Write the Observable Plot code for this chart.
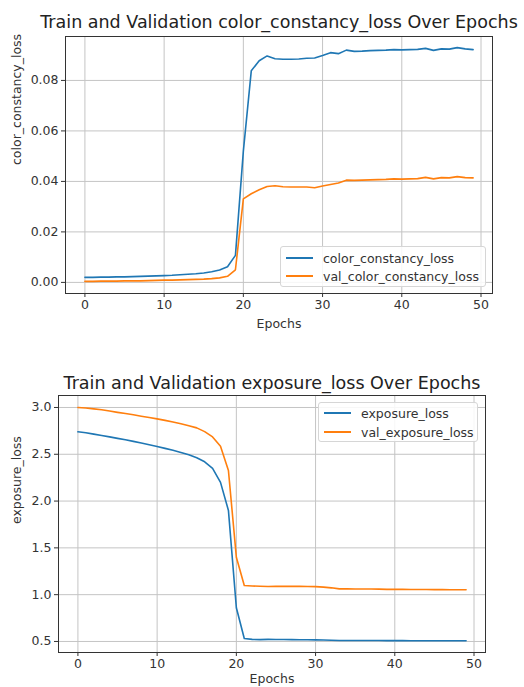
<!DOCTYPE html>
<html><head><meta charset="utf-8">
<script src="https://cdn.jsdelivr.net/npm/d3@7"></script>
<script src="https://cdn.jsdelivr.net/npm/@observablehq/plot@0.6"></script>
<style>
body{margin:0;background:#fff;font-family:"DejaVu Sans",sans-serif;}
#wrap{position:relative;width:524px;height:687px;overflow:hidden;background:#fff}
.chart{position:absolute;left:0}
.legend{position:absolute;border:1px solid #d6d6d6;border-radius:3px;background:rgba(255,255,255,0.85);font-size:12.5px;color:#333;box-sizing:border-box}
.row{position:absolute;left:0;height:18px;display:flex;align-items:center;white-space:nowrap}
.sw{display:inline-block;width:27px;height:0;border-top:2px solid;margin-left:5px;margin-right:10px}
</style>
</head><body>
<div id="wrap"></div>
<script>
const epochs = d3.range(50);

const colorConstancyLoss = [0.0020,0.0020,0.0021,0.0021,0.0022,0.0022,0.0023,0.0024,0.0025,0.0026,
  0.0027,0.0028,0.0030,0.0032,0.0034,0.0037,0.0042,0.0049,0.0062,0.0107,
  0.0520,0.0838,0.0878,0.0897,0.0886,0.0884,0.0884,0.0885,0.0888,0.0889,
  0.0899,0.0910,0.0906,0.0920,0.0915,0.0916,0.0918,0.0919,0.0920,0.0922,
  0.0921,0.0922,0.0923,0.0927,0.0919,0.0925,0.0924,0.0930,0.0925,0.0922];
const valColorConstancyLoss = [0.0004,0.0004,0.0005,0.0005,0.0005,0.0006,0.0006,0.0006,0.0007,0.0008,
  0.0009,0.0009,0.0010,0.0011,0.0012,0.0013,0.0015,0.0018,0.0024,0.0050,
  0.0331,0.0351,0.0367,0.0380,0.0383,0.0379,0.0378,0.0378,0.0378,0.0375,
  0.0382,0.0388,0.0394,0.0405,0.0404,0.0405,0.0406,0.0407,0.0408,0.0410,
  0.0409,0.0410,0.0411,0.0416,0.0410,0.0415,0.0414,0.0419,0.0415,0.0414];

const exposureLoss = [2.740,2.730,2.715,2.700,2.686,2.670,2.655,2.638,2.620,2.602,
  2.583,2.563,2.542,2.520,2.495,2.462,2.420,2.350,2.200,1.900,
  0.860,0.532,0.522,0.520,0.522,0.521,0.521,0.520,0.519,0.518,
  0.517,0.515,0.513,0.511,0.511,0.511,0.510,0.510,0.510,0.509,
  0.509,0.509,0.508,0.508,0.508,0.508,0.507,0.507,0.507,0.507];
const valExposureLoss = [3.000,2.995,2.985,2.975,2.962,2.948,2.935,2.922,2.907,2.893,
  2.878,2.862,2.845,2.826,2.805,2.782,2.742,2.685,2.585,2.327,
  1.400,1.098,1.093,1.090,1.087,1.089,1.089,1.089,1.089,1.088,
  1.086,1.081,1.073,1.062,1.062,1.061,1.060,1.060,1.059,1.057,
  1.056,1.056,1.055,1.055,1.055,1.054,1.054,1.053,1.053,1.052];

const xTicks = [0,10,20,30,40,50];
const yTicksTop = [0.00,0.02,0.04,0.06,0.08];
const yTicksBottom = [0.5,1.0,1.5,2.0,2.5,3.0];
const seriesColors = ["#1f77b4","#ff7f0e"];

const wrap = document.getElementById("wrap");

function makeChart({top, height, margins, yDomain, yTicks, yFormat, title, ylabel, names, train, val, legendBox, titleDy, ylabelDx, xlabelDy}) {
  const rows = [];
  epochs.forEach((e,i)=>{ rows.push({epoch:e, value:train[i], series:names[0]}); });
  epochs.forEach((e,i)=>{ rows.push({epoch:e, value:val[i], series:names[1]}); });
  const chart = Plot.plot({
    width: 524, height,
    marginLeft: margins[0], marginRight: margins[1], marginTop: margins[2], marginBottom: margins[3],
    style: {fontFamily: "DejaVu Sans, sans-serif", fontSize: "12px", color: "#333", background: "#fff"},
    x: {domain: [-2.45, 51.45]},
    y: {domain: yDomain},
    color: {domain: names, range: seriesColors},
    marks: [
      Plot.gridX(xTicks, {stroke: "#c4c4c4", strokeOpacity: 1, strokeWidth: 1}),
      Plot.gridY(yTicks, {stroke: "#c4c4c4", strokeOpacity: 1, strokeWidth: 1}),
      Plot.axisX(xTicks, {tickSize: 4, tickPadding: 3, label: null, stroke: "#333", fill: "#333", fontSize: 12.5}),
      Plot.axisY(yTicks, {tickSize: 4, tickPadding: 3, label: null, tickFormat: d3.format(yFormat), stroke: "#333", fill: "#333", fontSize: 12.5}),
      Plot.line(rows, {x: "epoch", y: "value", z: "series", stroke: "series", strokeWidth: 1.6}),
      Plot.frame({stroke: "#333", strokeWidth: 1}),
      Plot.text([title], {frameAnchor: "top", lineAnchor: "middle", dy: titleDy, text: d => d, fontSize: 17.5, fill: "#222"}),
      Plot.text(["Epochs"], {frameAnchor: "bottom", lineAnchor: "middle", dy: xlabelDy, text: d => d, fontSize: 12.5, fill: "#333"}),
      Plot.text([ylabel], {frameAnchor: "left", lineAnchor: "middle", dx: ylabelDx, rotate: -90, text: d => d, fontSize: 12.5, fill: "#333"})
    ]
  });
  chart.classList.add("chart");
  chart.style.top = top + "px";
  wrap.appendChild(chart);

  const lg = document.createElement("div");
  lg.className = "legend";
  lg.style.left = legendBox.left + "px";
  lg.style.top = (top + legendBox.top) + "px";
  lg.style.width = legendBox.width + "px";
  lg.style.height = legendBox.height + "px";
  names.forEach((n,i)=>{
    const r = document.createElement("div");
    r.className = "row";
    r.style.top = (legendBox.rowTop + i*legendBox.rowGap) + "px";
    const sw = document.createElement("span");
    sw.className = "sw";
    sw.style.borderTopColor = seriesColors[i];
    r.appendChild(sw);
    r.appendChild(document.createTextNode(n));
    lg.appendChild(r);
  });
  wrap.appendChild(lg);
}

makeChart({
  top: 0, height: 340, margins: [65, 32, 36, 47],
  yDomain: [-0.0044, 0.0974], yTicks: yTicksTop, yFormat: ".2f",
  title: "Train and Validation color_constancy_loss Over Epochs",
  ylabel: "color_constancy_loss",
  names: ["color_constancy_loss","val_color_constancy_loss"],
  train: colorConstancyLoss, val: valColorConstancyLoss,
  legendBox: {left: 280, top: 246, width: 206, height: 41, rowTop: 2, rowGap: 18},
  titleDy: -14, ylabelDx: -49, xlabelDy: 30
});

makeChart({
  top: 340, height: 347, margins: [58, 39, 55, 35],
  yDomain: [0.382, 3.128], yTicks: yTicksBottom, yFormat: ".1f",
  title: "Train and Validation exposure_loss Over Epochs",
  ylabel: "exposure_loss",
  names: ["exposure_loss","val_exposure_loss"],
  train: exposureLoss, val: valExposureLoss,
  legendBox: {left: 318, top: 62, width: 160, height: 40, rowTop: 1, rowGap: 19},
  titleDy: -12, ylabelDx: -42, xlabelDy: 26
});
</script>
</body></html>
